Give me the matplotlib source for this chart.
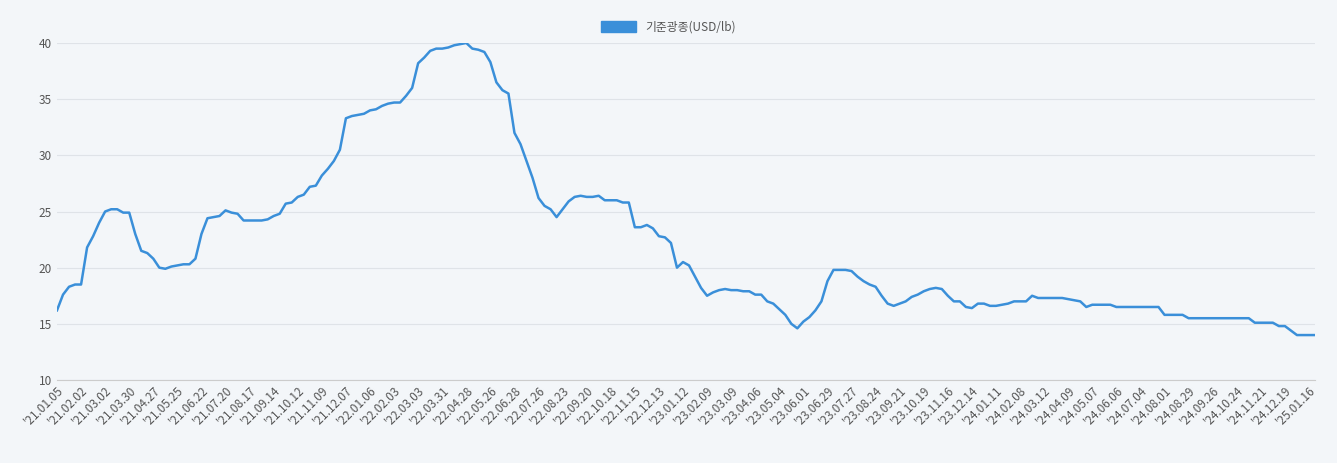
import matplotlib
matplotlib.use("Agg")
import matplotlib.pyplot as plt
from matplotlib.patches import Patch

labels = ["'21.01.05","'21.02.02","'21.03.02","'21.03.30","'21.04.27","'21.05.25","'21.06.22","'21.07.20","'21.08.17","'21.09.14","'21.10.12","'21.11.09","'21.12.07",
"'22.01.06","'22.02.03","'22.03.03","'22.03.31","'22.04.28","'22.05.26","'22.06.28","'22.07.26","'22.08.23","'22.09.20","'22.10.18","'22.11.15","'22.12.13",
"'23.01.12","'23.02.09","'23.03.09","'23.04.06","'23.05.04","'23.06.01","'23.06.29","'23.07.27","'23.08.24","'23.09.21","'23.10.19","'23.11.16","'23.12.14",
"'24.01.11","'24.02.08","'24.03.12","'24.04.09","'24.05.07","'24.06.06","'24.07.04","'24.08.01","'24.08.29","'24.09.26","'24.10.24","'24.11.21","'24.12.19","'25.01.16"]

values = [16.2,17.6,18.3,18.5, 18.5,21.8,22.8,24.0, 25.0,25.2,25.2,24.9, 24.9,23.0,21.5,21.3,
20.8,20.0,19.9,20.1, 20.2,20.3,20.3,20.8, 23.0,24.4,24.5,24.6, 25.1,24.9,24.8,24.2,
24.2,24.2,24.2,24.3, 24.6,24.8,25.7,25.8, 26.3,26.5,27.2,27.3, 28.2,28.8,29.5,30.5,
33.3,33.5,33.6,33.7, 34.0,34.1,34.4,34.6, 34.7,34.7,35.3,36.0, 38.2,38.7,39.3,39.5,
39.5,39.6,39.8,39.9, 40.0,39.5,39.4,39.2, 38.3,36.5,35.8,35.5, 32.0,31.0,29.5,28.0,
26.2,25.5,25.2,24.5, 25.2,25.9,26.3,26.4, 26.3,26.3,26.4,26.0, 26.0,26.0,25.8,25.8,
23.6,23.6,23.8,23.5, 22.8,22.7,22.2,20.0, 20.5,20.2,19.2,18.2, 17.5,17.8,18.0,18.1,
18.0,18.0,17.9,17.9, 17.6,17.6,17.0,16.8, 16.3,15.8,15.0,14.6, 15.2,15.6,16.2,17.0,
18.8,19.8,19.8,19.8, 19.7,19.2,18.8,18.5, 18.3,17.5,16.8,16.6, 16.8,17.0,17.4,17.6,
17.9,18.1,18.2,18.1, 17.5,17.0,17.0,16.5, 16.4,16.8,16.8,16.6, 16.6,16.7,16.8,17.0,
17.0,17.0,17.5,17.3, 17.3,17.3,17.3,17.3, 17.2,17.1,17.0,16.5, 16.7,16.7,16.7,16.7,
16.5,16.5,16.5,16.5, 16.5,16.5,16.5,16.5, 15.8,15.8,15.8,15.8, 15.5,15.5,15.5,15.5,
15.5,15.5,15.5,15.5, 15.5,15.5,15.5,15.1, 15.1,15.1,15.1,14.8, 14.8,14.4,14.0,14.0,
14.0,14.0]

series_name = "기준광종(USD/lb)"

plt.rcParams['font.family'] = ['Noto Sans CJK KR', 'DejaVu Sans']
bg = '#f3f6f9'
fig = plt.figure(figsize=(13.37, 4.63), dpi=100, facecolor=bg)
ax = fig.add_axes([57/1337, 1-380/463, (1315-57)/1337, (380-43)/463], facecolor=bg)
x = list(range(len(values)))
ax.plot(x, values, color='#3a8fd9', lw=1.8, label=series_name)
ax.set_xlim(0, len(values)-1)
ax.set_ylim(10, 40)
ax.set_yticks(range(10, 41, 5))
ax.set_xticks(range(0, len(labels)*4, 4))
ax.set_xticklabels(labels, rotation=45, ha='right', rotation_mode='anchor', fontsize=8.5, color='#555')
ax.tick_params(axis='y', labelsize=8.5, colors='#555', length=0)
ax.tick_params(axis='x', length=0, pad=3)
ax.grid(axis='y', color='#dfe3e8', lw=0.8)
for s in ['top', 'right', 'left']:
    ax.spines[s].set_visible(False)
ax.spines['bottom'].set_color('#cccccc')
fig.legend(handles=[Patch(color='#3a8fd9', label=series_name)], loc='center', bbox_to_anchor=(0.5, 1-27/463),
           frameon=False, fontsize=8.5, handlelength=3, handleheight=1, labelcolor='#555')
fig.savefig('out.png', dpi=100, facecolor=bg)
